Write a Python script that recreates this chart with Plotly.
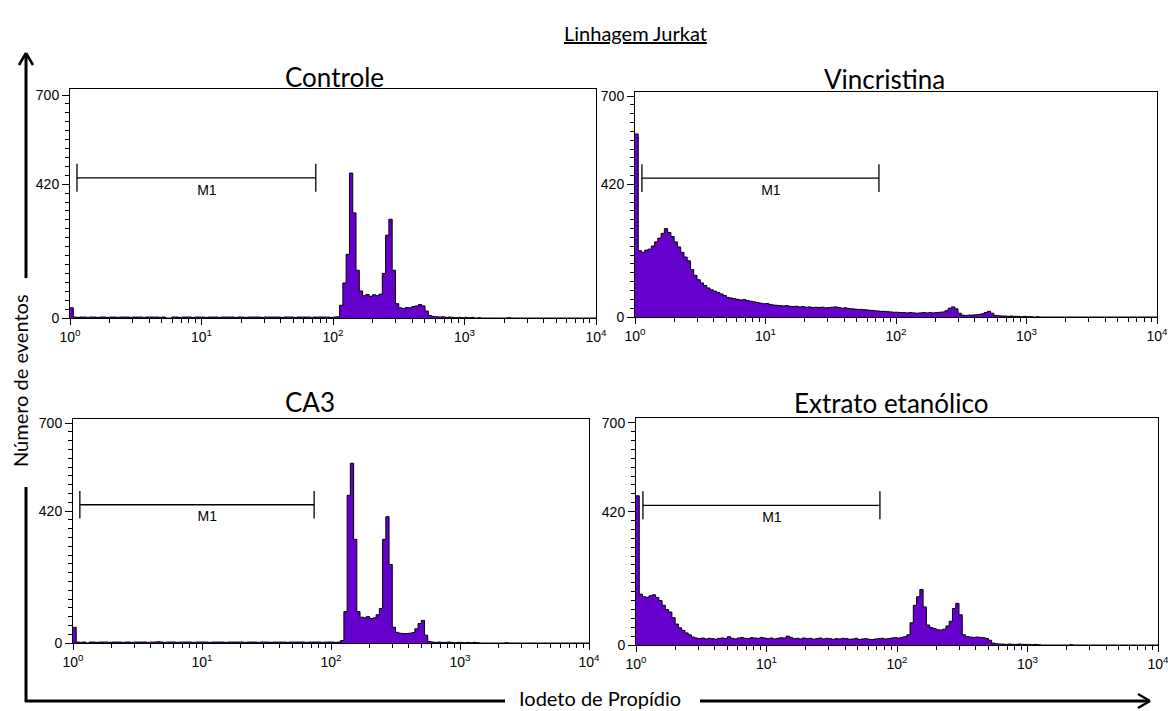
import numpy as np
import plotly.graph_objects as go

W, H = 1168, 711

# Propidium iodide histograms: counts per 0.025-decade channel bin,
# from 10^0 to 10^4 (40 bins per decade, 160 bins per sample).
BIN_DECADES = 0.025

controle = [
    # 10^0 .. 10^1
    32, 3, 2, 3, 3, 2, 3, 3, 2, 3, 3, 2, 3, 3, 2, 3, 3, 3, 2, 3,
    3, 3, 2, 3, 3, 3, 3, 2, 3, 0, 0, 3, 3, 2, 3, 3, 3, 2, 3, 3,
    # 10^1 .. 10^2
    3, 2, 3, 3, 3, 2, 3, 3, 3, 3, 2, 3, 3, 2, 3, 3, 3, 3, 2, 3,
    3, 3, 3, 3, 2, 3, 3, 3, 2, 3, 3, 3, 3, 2, 3, 3, 3, 3, 3, 2,
    # 10^2 .. 10^3
    3, 4, 40, 110, 200, 455, 330, 150, 85, 70, 74, 68, 73, 70, 75, 140, 260, 310, 150, 45,
    32, 30, 33, 32, 36, 38, 42, 38, 22, 8, 5, 4, 3, 4, 2, 3, 2, 1, 2, 1,
    # 10^3 .. 10^4
    2, 1, 2, 0, 1, 0, 0, 0, 0, 0, 0, 0, 0, 1, 0, 0, 0, 0, 0, 0,
    0, 0, 0, 0, 0, 0, 0, 0, 0, 0, 0, 0, 0, 0, 0, 0, 0, 0, 0, 0,
]

vincristina = [
    580, 210, 205, 212, 215, 225, 238, 250, 265, 280, 268, 255, 238, 222, 205, 190, 178, 150, 132, 118,
    108, 100, 92, 86, 82, 78, 73, 68, 62, 60, 58, 56, 54, 55, 52, 50, 48, 46, 44, 42,
    43, 40, 38, 37, 36, 35, 36, 34, 33, 34, 32, 33, 31, 32, 30, 31, 30, 31, 29, 30,
    31, 32, 30, 28, 29, 27, 26, 25, 24, 24, 23, 22, 21, 20, 19, 18, 18, 17, 16, 15,
    15, 14, 14, 13, 14, 13, 12, 13, 14, 13, 14, 13, 14, 15, 16, 20, 28, 32, 26, 12,
    6, 5, 6, 6, 7, 8, 10, 14, 18, 12, 5, 4, 3, 3, 2, 3, 2, 2, 1, 2,
    1, 1, 0, 1, 0, 0, 0, 0, 0, 0, 0, 0, 0, 0, 0, 0, 0, 0, 0, 0,
    0, 0, 0, 0, 0, 0, 0, 0, 0, 0, 0, 0, 0, 0, 0, 0, 0, 0, 0, 0,
]

ca3 = [
    50, 3, 2, 3, 0, 3, 3, 2, 3, 3, 3, 2, 3, 3, 3, 2, 3, 3, 2, 3,
    3, 3, 3, 2, 3, 3, 4, 3, 2, 3, 3, 3, 2, 3, 3, 3, 3, 2, 3, 3,
    3, 3, 2, 3, 3, 3, 3, 2, 3, 3, 3, 3, 3, 2, 3, 3, 3, 2, 3, 3,
    3, 2, 3, 3, 3, 3, 2, 3, 3, 3, 3, 3, 2, 3, 3, 3, 3, 2, 3, 3,
    3, 2, 3, 8, 100, 470, 572, 330, 100, 82, 80, 84, 78, 80, 90, 110, 330, 402, 250, 50,
    34, 31, 30, 30, 31, 33, 45, 62, 72, 25, 5, 3, 2, 3, 2, 2, 3, 2, 1, 2,
    2, 1, 2, 1, 2, 1, 0, 0, 0, 0, 0, 0, 0, 0, 1, 0, 0, 0, 0, 0,
    0, 0, 0, 0, 0, 0, 0, 0, 0, 0, 0, 0, 0, 0, 0, 0, 0, 0, 0, 0,
]

extrato = [
    470, 160, 152, 150, 155, 158, 150, 140, 125, 112, 104, 86, 66, 54, 46, 38, 32, 25, 22, 20,
    22, 19, 21, 20, 18, 21, 22, 20, 26, 21, 19, 22, 24, 21, 20, 23, 22, 21, 24, 22,
    20, 22, 19, 21, 23, 22, 28, 24, 20, 21, 19, 22, 20, 21, 18, 20, 22, 19, 21, 20,
    18, 20, 19, 21, 20, 18, 19, 21, 17, 19, 20, 18, 17, 19, 20, 21, 19, 20, 22, 23,
    22, 24, 26, 32, 70, 125, 152, 175, 120, 63, 55, 52, 48, 47, 50, 60, 75, 115, 131, 95,
    32, 27, 25, 24, 25, 24, 23, 21, 15, 6, 4, 3, 3, 2, 3, 2, 2, 3, 2, 2,
    2, 1, 2, 1, 0, 0, 0, 0, 0, 0, 0, 0, 0, 1, 0, 0, 0, 0, 0, 0,
    0, 0, 0, 0, 0, 0, 0, 0, 0, 0, 0, 0, 0, 0, 0, 0, 0, 0, 0, 0,
]

panel_titles = ["Controle", "Vincristina", "CA3", "Extrato etanólico"]
panel_counts = [controle, vincristina, ca3, extrato]

# M1 gate marker (same gate on every sample)
m1_range = [1.13, 74]
m1_level = 440
m1_halfheight = 44
m1_label_x = 11
m1_label_y = 398

x_ticks = [1, 10, 100, 1000, 10000]
x_ticktext = ["10<sup>0</sup>", "10<sup>1</sup>", "10<sup>2</sup>", "10<sup>3</sup>", "10<sup>4</sup>"]
x_minor = [m * 10 ** d for d in range(4) for m in range(2, 10)]
y_ticks = [0, 420, 700]
y_ticktext = ["0", "420", "700"]
y_mid_ticks = [140, 280, 560]

PURPLE = "#6600cc"
TICK_FONT = dict(family="Liberation Sans, Arial, sans-serif", size=14, color="black")
TEXT_FONT = "Lato, Open Sans, sans-serif"


def fx(p):
    return p / W


def fy(p):
    return 1 - p / H


# pixel frames of the four panels: (left, right, top, bottom) and y-range top
frames = [
    (70, 596, 89, 318, 719),
    (635, 1157, 92, 317, 713),
    (73, 589, 419, 643, 713),
    (636, 1158, 418, 645, 715),
]
title_pos = [(334, 77), (884, 79), (310, 402), (891, 403)]

fig = go.Figure()
layout = dict(
    width=W, height=H, margin=dict(l=0, r=0, t=0, b=0, autoexpand=False),
    paper_bgcolor="white", plot_bgcolor="white", showlegend=False,
    hovermode=False,
)

annotations = []
for k, (counts, title) in enumerate(zip(panel_counts, panel_titles)):
    sfx = "" if k == 0 else str(k + 1)
    xa, ya = "x" + sfx, "y" + sfx
    n = len(counts)
    edges = (10 ** (np.arange(n + 1) * BIN_DECADES)).tolist()
    yv = list(counts) + [counts[-1]]
    fig.add_trace(go.Scatter(
        x=edges, y=yv, mode="lines", line=dict(color="black", width=1, shape="hv"),
        fill="tozeroy", fillcolor=PURPLE, xaxis=xa, yaxis=ya,
    ))
    # M1 gate bar
    lo, hi = m1_range
    fig.add_trace(go.Scatter(
        x=[lo, hi, None, lo, lo, None, hi, hi],
        y=[m1_level, m1_level, None, m1_level - m1_halfheight, m1_level + m1_halfheight,
           None, m1_level - m1_halfheight, m1_level + m1_halfheight],
        mode="lines", line=dict(color="black", width=1.3), xaxis=xa, yaxis=ya,
    ))
    fig.add_trace(go.Scatter(
        x=[m1_label_x], y=[m1_label_y], mode="text", text=["M1"],
        textfont=dict(family="Liberation Sans, Arial, sans-serif", size=14, color="black"),
        xaxis=xa, yaxis=ya,
    ))

    left, right, top, bottom, ymax = frames[k]
    key_x = "xaxis" + sfx
    key_y = "yaxis" + sfx
    layout[key_x] = dict(
        type="log", range=[0, 4], domain=[fx(left), fx(right)], anchor=ya,
        automargin=False, ticklabeloverflow="allow",
        showline=True, linecolor="black", linewidth=1, mirror=True,
        showgrid=False, zeroline=False,
        tickmode="array", tickvals=x_ticks, ticktext=x_ticktext,
        ticks="outside", ticklen=6, tickwidth=1, tickcolor="black",
        tickfont=TICK_FONT,
        minor=dict(tickmode="array", tickvals=x_minor, ticks="outside",
                   ticklen=4, tickwidth=1, tickcolor="black", showgrid=False),
    )
    layout[key_y] = dict(
        range=[0, ymax], domain=[fy(bottom), fy(top)], anchor=xa,
        automargin=False, ticklabeloverflow="allow",
        showline=True, linecolor="black", linewidth=1, mirror=True,
        showgrid=False, zeroline=False,
        tickmode="array", tickvals=y_ticks, ticktext=y_ticktext,
        ticks="outside", ticklen=7, tickwidth=1, tickcolor="black",
        tickfont=TICK_FONT,
        minor=dict(dtick=28, tick0=0, ticks="outside", ticklen=4,
                   tickwidth=1, tickcolor="black", showgrid=False),
    )
    # unlabelled mid-length ticks every 140 counts, on an overlaid axis
    mid_key = "yaxis" + str(k + 5)
    layout[mid_key] = dict(
        overlaying=ya, anchor=xa, side="left", range=[0, ymax],
        automargin=False,
        showline=False, showgrid=False, zeroline=False,
        tickmode="array", tickvals=y_mid_ticks, showticklabels=False,
        ticks="outside", ticklen=7, tickwidth=1, tickcolor="black",
    )
    tx, ty = title_pos[k]
    annotations.append(dict(
        x=fx(tx), y=fy(ty), xref="paper", yref="paper", text=title, showarrow=False,
        xanchor="center", yanchor="middle",
        font=dict(family=TEXT_FONT, size=26, color="black"),
    ))

annotations.append(dict(
    x=fx(635), y=fy(33), xref="paper", yref="paper", text="Linhagem Jurkat",
    showarrow=False, xanchor="center", yanchor="middle",
    font=dict(family=TEXT_FONT, size=20, color="black", lineposition="under"),
))
annotations.append(dict(
    x=fx(20), y=fy(381), xref="paper", yref="paper", text="Número de eventos",
    showarrow=False, xanchor="center", yanchor="middle", textangle=-90,
    font=dict(family=TEXT_FONT, size=20, color="black"),
))
annotations.append(dict(
    x=fx(600), y=0, xref="paper", yref="paper", text="Iodeto de Propídio",
    showarrow=False, xanchor="center", yanchor="bottom", borderpad=0,
    font=dict(family=TEXT_FONT, size=20, color="black"),
))

# axis arrows around the panel grid
def seg(x0, y0, x1, y1, w=3):
    return dict(type="line", xref="paper", yref="paper",
                x0=fx(x0), y0=fy(y0), x1=fx(x1), y1=fy(y1),
                line=dict(color="black", width=w))


shapes = [
    seg(26, 702, 26, 487),
    seg(26, 278, 26, 54),
    seg(26, 53, 19, 65, 2.5),
    seg(26, 53, 33, 65, 2.5),
    seg(25, 701, 505, 701),
    seg(700, 701, 1149, 701),
    seg(1150, 701, 1138, 694, 2.5),
    seg(1150, 701, 1138, 708, 2.5),
]

layout["annotations"] = annotations
layout["shapes"] = shapes
fig.update_layout(**layout)
fig.write_html("out.html")
